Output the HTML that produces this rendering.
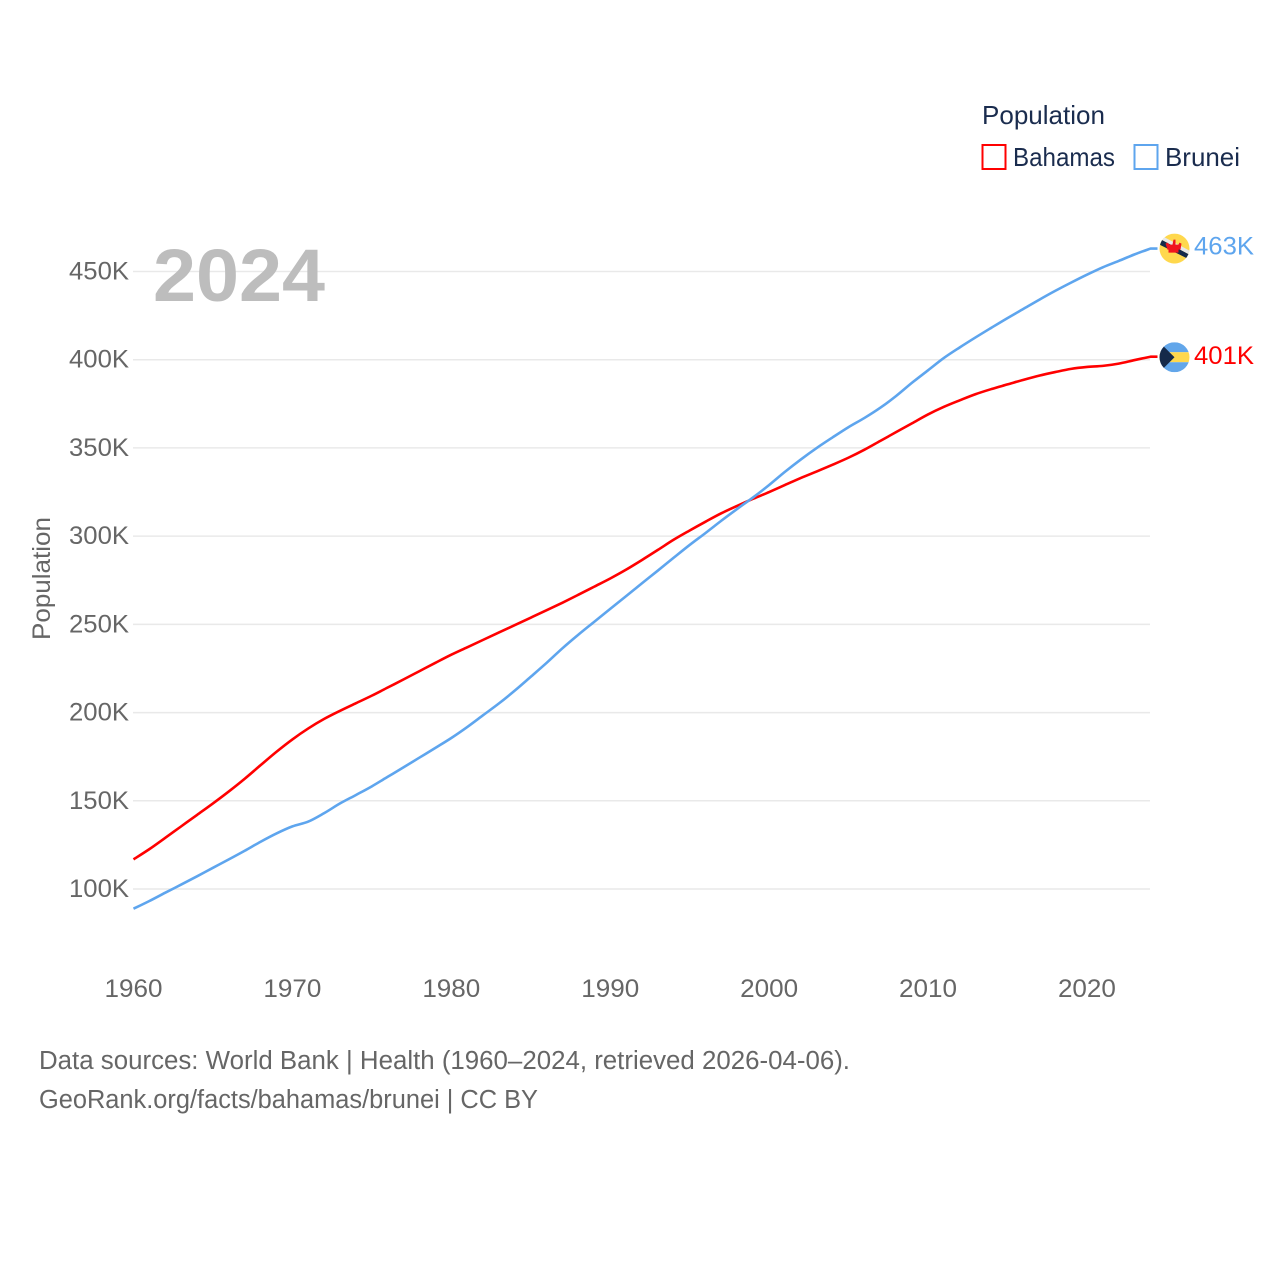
<!DOCTYPE html>
<html>
<head>
<meta charset="utf-8">
<title>Population: Bahamas and Brunei</title>
<style>
html,body{margin:0;padding:0;background:#fff;width:1280px;height:1280px;overflow:hidden}
svg{display:block}
text{font-family:"Liberation Sans",sans-serif}
</style>
</head>
<body>
<svg id="chart" xmlns="http://www.w3.org/2000/svg" width="1280" height="1280" viewBox="0 0 1280 1280">
  <defs>
    <clipPath id="clip-brunei"><circle id="clip-brunei-c" cx="1174.5" cy="248" r="15"/></clipPath>
    <clipPath id="clip-bahamas"><circle id="clip-bahamas-c" cx="1174.5" cy="357" r="15"/></clipPath>
  </defs>
  <g id="grid"></g>
  <g id="yticks"></g>
  <g id="xticks"></g>
  <text x="153" y="301" font-size="74" font-weight="700" fill="#bdbdbd" textLength="172" lengthAdjust="spacingAndGlyphs">2024</text>
  <text transform="translate(50,640) rotate(-90)" font-size="25" fill="#666" textLength="123" lengthAdjust="spacingAndGlyphs">Population</text>
  <g id="series"></g>
  <g id="ends"></g>
  <g>
    <text x="982" y="124" font-size="26" fill="#1a2c4e" textLength="123" lengthAdjust="spacingAndGlyphs">Population</text>
    <rect x="982.5" y="145" width="23" height="24" fill="#fff" stroke="#ff0000" stroke-width="2"/>
    <text x="1013" y="166" font-size="26" fill="#1a2c4e" textLength="102" lengthAdjust="spacingAndGlyphs">Bahamas</text>
    <rect x="1134.5" y="145" width="23" height="24" fill="#fff" stroke="#5ea5ee" stroke-width="2"/>
    <text x="1165" y="166" font-size="26" fill="#1a2c4e" textLength="75" lengthAdjust="spacingAndGlyphs">Brunei</text>
  </g>
  <g>
    <text x="39" y="1069" font-size="25.5" fill="#666" textLength="811" lengthAdjust="spacingAndGlyphs">Data sources: World Bank | Health (1960–2024, retrieved 2026-04-06).</text>
    <text x="39" y="1108" font-size="25.5" fill="#666" textLength="499" lengthAdjust="spacingAndGlyphs">GeoRank.org/facts/bahamas/brunei | CC BY</text>
  </g>
</svg>
<script>
const years = [1960,1961,1962,1963,1964,1965,1966,1967,1968,1969,1970,1971,1972,1973,1974,1975,1976,1977,1978,1979,1980,1981,1982,1983,1984,1985,1986,1987,1988,1989,1990,1991,1992,1993,1994,1995,1996,1997,1998,1999,2000,2001,2002,2003,2004,2005,2006,2007,2008,2009,2010,2011,2012,2013,2014,2015,2016,2017,2018,2019,2020,2021,2022,2023,2024];
const bahamasValues = [116.8,122.6,129,135.5,142,148.5,155.3,162.5,170.2,177.8,184.8,191,196.4,201,205.3,209.6,214.2,218.8,223.5,228.2,232.8,237,241.2,245.4,249.6,253.8,258,262.3,266.8,271.4,276,281,286.5,292.2,298,303.2,308.2,313,317.2,321.2,325,329,333,336.7,340.5,344.5,349,354,359,364,369,373.3,377,380.5,383.4,386,388.6,391,393,394.8,395.9,396.5,397.8,399.8,401.7];
const bruneiValues = [88.8,93.2,97.9,102.5,107.2,112,116.8,121.7,126.8,131.5,135.5,138.2,143,148.5,153.3,158.2,163.6,169,174.5,180,185.6,191.8,198.5,205.2,212.5,220.3,228.2,236.5,244.2,251.5,258.8,266,273.3,280.5,287.8,295,301.8,308.8,315.5,322,329,336.5,343.5,350,356,361.8,367,372.8,379.5,387,394,401,407,412.7,418.2,423.6,428.8,434,439,443.7,448.2,452.4,456,459.7,463];
const yTickValues = [100,150,200,250,300,350,400,450];
const yTickLabels = ["100K","150K","200K","250K","300K","350K","400K","450K"];
const xTickValues = [1960,1970,1980,1990,2000,2010,2020];
const endLabels = ["401K","463K"];

const NS = "http://www.w3.org/2000/svg";
const xScale = function (yr) { return 133.5 + (yr - 1960) * (1150.5 - 133.5) / 64; };
const yScale = function (v) { return 889 - (v - 100) * (889 - 271.5) / 350; };

function make(tag, attrs, parent, txt) {
  const el = document.createElementNS(NS, tag);
  for (const k in attrs) el.setAttribute(k, attrs[k]);
  if (txt !== undefined) el.textContent = txt;
  parent.appendChild(el);
  return el;
}

const grid = document.getElementById("grid");
const yticks = document.getElementById("yticks");
const xticks = document.getElementById("xticks");
const series = document.getElementById("series");
const ends = document.getElementById("ends");

yTickValues.forEach(function (v, i) {
  const line = make("line", {x1: 133, x2: 1150, y1: yScale(v), y2: yScale(v), stroke: "#e9e9e9", "stroke-width": 1.5}, grid);
  
  
  const label = make("text", {x: 129, y: yScale(v) + 8, "text-anchor": "end", "font-size": 25, fill: "#666", textLength: 60, lengthAdjust: "spacingAndGlyphs"}, yticks, yTickLabels[i]);
  
  
});

xTickValues.forEach(function (yr) {
  const label = make("text", {x: xScale(yr), y: 997, "text-anchor": "middle", "font-size": 25, fill: "#666", textLength: 58, lengthAdjust: "spacingAndGlyphs"}, xticks, String(yr));
  
  
});

/* smooth curve through every data point, plus a short flat lead-out to the flag */
function linePath(values) {
  const px = values.map(function (v, i) { return [xScale(years[i]), yScale(v)]; });
  let d = "M" + px[0][0].toFixed(2) + " " + px[0][1].toFixed(2);
  for (let i = 0; i < px.length - 1; i++) {
    const p0 = px[Math.max(i - 1, 0)], p1 = px[i], p2 = px[i + 1], p3 = px[Math.min(i + 2, px.length - 1)];
    const c1x = p1[0] + (p2[0] - p0[0]) / 6, c1y = p1[1] + (p2[1] - p0[1]) / 6;
    const c2x = p2[0] - (p3[0] - p1[0]) / 6, c2y = p2[1] - (p3[1] - p1[1]) / 6;
    d += "C" + c1x.toFixed(2) + " " + c1y.toFixed(2) + " " + c2x.toFixed(2) + " " + c2y.toFixed(2) + " " + p2[0].toFixed(2) + " " + p2[1].toFixed(2);
  }
  const end = px[px.length - 1];
  d += "L" + (end[0] + 7).toFixed(2) + " " + end[1].toFixed(2);
  return d;
}

const bahamasLine = make("path", {d: linePath(bahamasValues), fill: "none", stroke: "#ff0000", "stroke-width": 2.6, "stroke-linejoin": "round"}, series);


const bruneiLine = make("path", {d: linePath(bruneiValues), fill: "none", stroke: "#5ea5ee", "stroke-width": 2.6, "stroke-linejoin": "round"}, series);



/* end markers follow the final data point */
const cx = 1174.5;
const bahY = yScale(bahamasValues[bahamasValues.length - 1]) + 0.5;
const bruY = yScale(bruneiValues[bruneiValues.length - 1]);
document.getElementById("clip-bahamas-c").setAttribute("cy", bahY);
document.getElementById("clip-brunei-c").setAttribute("cy", bruY);

const bahFlag = make("g", {"clip-path": "url(#clip-bahamas)"}, ends);


make("rect", {x: cx - 15, y: bahY - 15, width: 30, height: 10, fill: "#62a6ea"}, bahFlag);
make("rect", {x: cx - 15, y: bahY - 5, width: 30, height: 10, fill: "#ffd84d"}, bahFlag);
make("rect", {x: cx - 15, y: bahY + 5, width: 30, height: 10, fill: "#62a6ea"}, bahFlag);
make("path", {d: "M" + (cx - 15) + " " + (bahY - 15) + "L" + cx + " " + bahY + "L" + (cx - 15) + " " + (bahY + 15) + "Z", fill: "#152a4a"}, bahFlag);

const bruFlag = make("g", {"clip-path": "url(#clip-brunei)"}, ends);


make("rect", {x: cx - 15, y: bruY - 15, width: 30, height: 30, fill: "#ffd84d"}, bruFlag);
make("path", {d: "M" + (cx - 15) + " " + (bruY - 10) + "L" + (cx + 15) + " " + (bruY + 6) + "L" + (cx + 15) + " " + (bruY + 11) + "L" + (cx - 15) + " " + (bruY - 4) + "Z", fill: "#152a4a"}, bruFlag);
make("path", {d: "M" + (cx - 15) + " " + (bruY - 14) + "L" + (cx + 15) + " " + (bruY + 2) + "L" + (cx + 15) + " " + (bruY + 6) + "L" + (cx - 15) + " " + (bruY - 10) + "Z", fill: "#e8e8e8"}, bruFlag);
make("path", {d: "M" + (cx - 1) + " " + (bruY - 9) + "h2v5h3l1 -2 2 1 -1 6 h-2v3h-10v-3h-1l-2 -6 2 -1 2 2h3z", fill: "#f0141e"}, bruFlag);

const bahLabel = make("text", {x: 1194, y: bahY + 7, "font-size": 25, fill: "#ff0000", textLength: 60, lengthAdjust: "spacingAndGlyphs"}, ends, endLabels[0]);


const bruLabel = make("text", {x: 1194, y: bruY + 6, "font-size": 25, fill: "#5ea5ee", textLength: 60, lengthAdjust: "spacingAndGlyphs"}, ends, endLabels[1]);


</script>
</body>
</html>
